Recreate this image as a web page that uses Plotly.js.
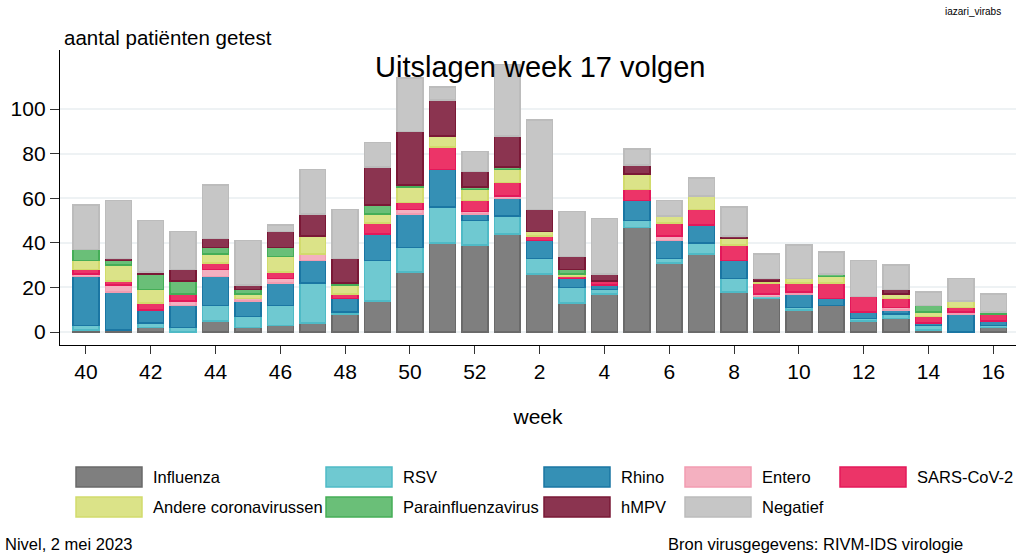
<!DOCTYPE html>
<html><head><meta charset="utf-8">
<script src="https://cdn.plot.ly/plotly-3.0.1.min.js"></script>
<style>html,body{margin:0;padding:0;background:#fff;}#chart{width:1016px;height:553px;}</style>
</head><body><div id="chart"></div>
<script>
const weeks = ['40','41','42','43','44','45','46','47','48','49','50','51','52','1','2','3','4','5','6','7','8','9','10','11','12','13','14','15','16'];
const tickWeeks = ['40','42','44','46','48','50','52','2','4','6','8','10','12','14','16'];

const influenza = [1,1,2,0,5,2,3,4,8,14,27,40,39,44,26,13,17,47,31,35,18,15,10,12,5,6,1,0,2];
const rsv       = [2,0,2,2,7,5,9,18,1,18,11,16,11,8,7,7,2,3,2,5,6,1,1,0,1,2,2,0,1];
const rhino     = [22,17,6,10,13,7,10,10,6,12,15,17,3,8,8,4,2,9,8,8,8,0,6,3,3,2,1,8,2];
const entero    = [1,3,0,2,3,1,2,3,0,0,2,0,1,1,0,0,0,0,2,0,0,1,1,0,0,1,0,1,0];
const sars      = [2,2,3,3,3,0,3,0,2,5,3,10,5,6,2,1,2,5,6,7,7,5,4,7,7,4,3,2,3];
const andere    = [4,7,6,0,4,2,7,8,4,4,7,5,5,6,2,1,0,7,3,6,3,1,2,3,0,2,2,3,0];
const para      = [5,2,7,6,3,2,4,0,1,4,1,0,1,1,0,2,0,0,0,0,0,0,0,1,0,0,3,0,1];
const hmpv      = [0,1,1,5,4,2,7,10,11,17,24,16,7,14,10,6,3,4,0,0,1,1,0,0,0,2,0,0,0];
const negatief  = [20,26,23,17,24,20,3,20,22,11,24,6,9,32,40,20,25,7,7,8,13,11,15,10,16,11,6,10,8];

const seriesNames = ['Influenza','RSV','Rhino','Entero','SARS-CoV-2','Andere coronavirussen','Parainfluenzavirus','hMPV','Negatief'];
const seriesData = [influenza,rsv,rhino,entero,sars,andere,para,hmpv,negatief];
const fills = ['#7f7f7f','#6fc9d1','#3590b5','#f4b0c0','#ec3468','#dbe388','#6abf78','#8b3450','#c6c6c6'];
const borders = ['#6a6a6a','#4fbac6','#1a76a3','#f29cb1','#e3185a','#d2db6c','#45ae57','#7a1836','#bcbcbc'];

const traces = seriesNames.map((n,i)=>({
  type:'bar', name:n, x:weeks, y:seriesData[i],
  marker:{color:fills[i], line:{color:borders[i], width:1.5}},
  showlegend:false, hoverinfo:'x+y+name'
}));

const W=1016,H=553,L=60,R=0,T=50,B=208;
const px2x = p => (p-L)/(W-L-R);
const px2y = p => (H-B-p)/(H-T-B);

const colX = [76,326,544,685,840];
const rowY = [477,507];
const shapes=[], annotations=[];
seriesNames.forEach((n,k)=>{
  const col = k%5, row = Math.floor(k/5);
  const x0=colX[col], yc=rowY[row];
  shapes.push({type:'rect',xref:'paper',yref:'paper',x0:px2x(x0),x1:px2x(x0+66),y0:px2y(yc+10),y1:px2y(yc-10),
    fillcolor:fills[k],line:{color:borders[k],width:1.5}});
  annotations.push({xref:'paper',yref:'paper',x:px2x(x0+75),y:px2y(yc),xanchor:'left',yanchor:'middle',
    text:n,showarrow:false,font:{size:16.5,color:'#000'}});
});
annotations.push(
  {xref:'paper',yref:'paper',x:px2x(62),y:px2y(37),xanchor:'left',yanchor:'middle',text:'aantal patiënten getest',showarrow:false,font:{size:20.5,color:'#000'}},
  {xref:'paper',yref:'paper',x:px2x(540),y:px2y(67),xanchor:'center',yanchor:'middle',text:'Uitslagen week 17 volgen',showarrow:false,font:{size:29,color:'#000'}},
  {xref:'paper',yref:'paper',x:px2x(1003),y:px2y(11),xanchor:'right',yanchor:'middle',text:'iazari_virabs',showarrow:false,font:{size:10,color:'#000'}},
  {xref:'paper',yref:'paper',x:px2x(3),y:px2y(544),xanchor:'left',yanchor:'middle',text:'Nivel, 2 mei 2023',showarrow:false,font:{size:16.5,color:'#000'}},
  {xref:'paper',yref:'paper',x:px2x(666),y:px2y(544),xanchor:'left',yanchor:'middle',text:'Bron virusgegevens: RIVM-IDS virologie',showarrow:false,font:{size:16.5,color:'#000'}}
);

const layout = {
  width:W,height:H,margin:{l:L,r:R,t:T,b:B,pad:0},
  paper_bgcolor:'#fff',plot_bgcolor:'#fff',
  font:{family:'"Liberation Sans", Arial, sans-serif',color:'#000'},
  barmode:'stack', bargap:0.2,
  xaxis:{type:'category',range:[-0.8,28.7],tickmode:'array',tickvals:tickWeeks,ticktext:tickWeeks,
    showline:true,linecolor:'#000',linewidth:1.2,ticks:'outside',ticklen:8,tickcolor:'#333',
    tickfont:{size:21},showgrid:false,zeroline:false,
    title:{text:'week',font:{size:21},standoff:26}},
  yaxis:{range:[-5.8,126.5],tickmode:'array',tickvals:[0,20,40,60,80,100],
    showline:true,linecolor:'#000',linewidth:1.2,ticks:'outside',ticklen:9,tickcolor:'#333',
    tickfont:{size:21},showgrid:true,gridcolor:'#eef2f4',gridwidth:2,zeroline:false},
  shapes:shapes, annotations:annotations, showlegend:false
};
Plotly.newPlot('chart',traces,layout,{displayModeBar:false,staticPlot:true});
</script></body></html>
